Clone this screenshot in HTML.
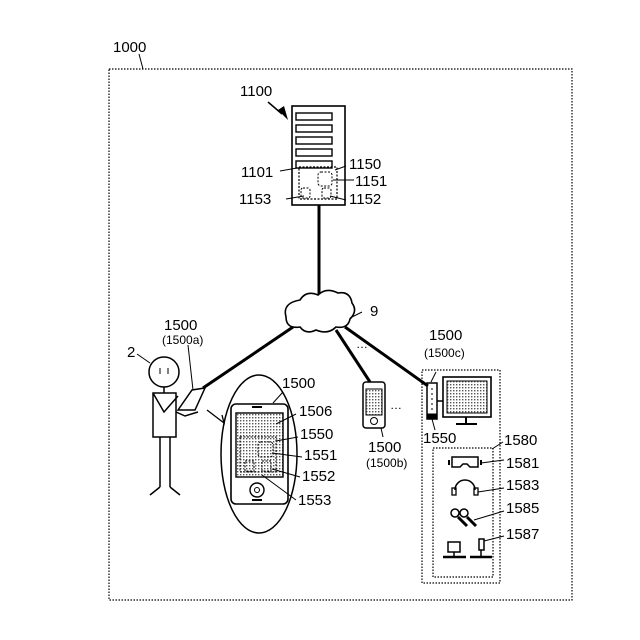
<!DOCTYPE html>
<html><head><meta charset="utf-8"><style>
html,body{margin:0;padding:0;background:#fff;}
svg{display:block;}
text{font-family:"Liberation Sans",sans-serif;font-size:15px;fill:#000;}
.s{font-size:12px;}
</style></head><body>
<svg width="640" height="640" viewBox="0 0 640 640" xmlns="http://www.w3.org/2000/svg">
<defs>
<pattern id="dots" width="3" height="3" patternUnits="userSpaceOnUse"><rect width="3" height="3" fill="#fff"/><rect width="1.4" height="1.4" fill="#555"/></pattern>
</defs>
<g fill="none" stroke="#000">
<!-- outer box -->
<rect x="109" y="69" width="463" height="531" stroke-dasharray="1.5 1.5" stroke-width="1.2"/>
<line x1="139" y1="54" x2="143" y2="69"/>
<!-- server -->
<rect x="292" y="106" width="53" height="99" stroke-width="1.6"/>
<rect x="296" y="113" width="36" height="7" stroke-width="1.4"/>
<rect x="296" y="125" width="36" height="7" stroke-width="1.4"/>
<rect x="296" y="137" width="36" height="7" stroke-width="1.4"/>
<rect x="296" y="149" width="36" height="7" stroke-width="1.4"/>
<rect x="296" y="161" width="36" height="7" stroke-width="1.4"/>
<rect x="299" y="167" width="38" height="32" stroke-dasharray="2 1.5" stroke-width="1.2"/>
<rect x="318" y="172" width="14" height="14" rx="3" stroke-dasharray="2 1.5"/>
<rect x="301" y="188" width="9" height="10" rx="2" stroke-dasharray="2 1.5"/>
<rect x="322" y="188" width="9" height="10" rx="2" stroke-dasharray="2 1.5"/>
<line x1="268" y1="102" x2="282" y2="114" stroke-width="1.5"/>
<line x1="280" y1="171" x2="297" y2="168"/>
<line x1="335" y1="170" x2="346" y2="166"/>
<line x1="333" y1="180" x2="354" y2="180"/>
<line x1="330" y1="196" x2="346" y2="200"/>
<line x1="286" y1="199" x2="304" y2="196"/>
<!-- network -->
<line x1="319" y1="205" x2="319" y2="295" stroke-width="3"/>
<line x1="293" y1="327" x2="203" y2="388" stroke-width="3"/>
<line x1="336" y1="330" x2="370" y2="382" stroke-width="3"/>
<line x1="345" y1="327" x2="428" y2="386" stroke-width="3"/>
<path d="M300 300 q6 -10 18 -5 q8 -8 20 -2 q12 -2 14 10 q6 8 -2 16 q-2 10 -14 8 q-8 8 -20 3 q-10 5 -16 -3 q-14 2 -14 -10 q-4 -14 14 -17 z" fill="#fff" stroke-width="1.6"/>
<line x1="350" y1="318" x2="362" y2="312"/>
<!-- person -->
<circle cx="164" cy="372" r="15" stroke-width="1.5"/>
<line x1="164" y1="387" x2="164" y2="393" stroke-width="1.5"/>
<path d="M153 393 L176 393 L176 437 L153 437 Z M153 393 L164 412 L178 396" stroke-width="1.5"/>
<line x1="160" y1="437" x2="160" y2="487" stroke-width="1.5"/>
<line x1="170" y1="437" x2="170" y2="487" stroke-width="1.5"/>
<line x1="160" y1="487" x2="150" y2="495" stroke-width="1.5"/>
<line x1="170" y1="487" x2="180" y2="495" stroke-width="1.5"/>
<path d="M178 410 L192 390 L205 388 L195 410 Z" stroke-width="1.5" fill="#fff"/>
<path d="M176 412 L185 416 L198 412" stroke-width="1.5"/>
<line x1="160" y1="368" x2="160" y2="374"/>
<line x1="168" y1="368" x2="168" y2="374"/>
<line x1="137" y1="354" x2="150" y2="363"/>
<line x1="188" y1="345" x2="193" y2="390"/>
<!-- ellipse with phone -->
<ellipse cx="259" cy="454" rx="38" ry="79" stroke-width="1.5"/>
<path d="M207 410 L224 423 L222 415" stroke-width="1.3"/>
<rect x="231" y="404" width="57" height="100" rx="5" stroke-width="1.6"/>
<rect x="236" y="413" width="47" height="64" fill="url(#dots)" stroke-width="1.4"/>
<rect x="240" y="437" width="36" height="35" stroke-dasharray="2 1.5"/>
<rect x="258" y="442" width="15" height="15" rx="3" stroke-dasharray="2 1.5"/>
<rect x="245" y="461" width="9" height="10" stroke-dasharray="2 1.5"/>
<rect x="262" y="461" width="9" height="10" stroke-dasharray="2 1.5"/>
<circle cx="257" cy="490" r="7" stroke-width="1.4"/>
<circle cx="257" cy="490" r="2.5"/>
<line x1="252" y1="407" x2="262" y2="407" stroke-width="2"/>
<line x1="252" y1="500" x2="262" y2="500" stroke-width="2"/>
<line x1="273" y1="403" x2="283" y2="392"/>
<line x1="276" y1="424" x2="296" y2="414"/>
<line x1="276" y1="441" x2="298" y2="437"/>
<line x1="272" y1="453" x2="302" y2="457"/>
<line x1="272" y1="469" x2="300" y2="477"/>
<line x1="262" y1="475" x2="296" y2="500"/>
<!-- phone b -->
<rect x="363" y="382" width="22" height="46" rx="3" stroke-width="1.5"/>
<rect x="366" y="389" width="16" height="26" fill="url(#dots)" stroke-width="1"/>
<circle cx="374" cy="421" r="3.5"/>
<line x1="381" y1="428" x2="383" y2="437"/>
<!-- desktop -->
<rect x="422" y="370" width="78" height="213" stroke-dasharray="1.5 1.5" stroke-width="1.2"/>
<rect x="427" y="383" width="10" height="36" stroke-width="1.5"/>
<line x1="432" y1="388" x2="432" y2="410" stroke-dasharray="2 3"/>
<rect x="427" y="414" width="10" height="5" fill="#000"/>
<line x1="437" y1="401" x2="443" y2="401" stroke-width="1.5"/>
<line x1="431" y1="382" x2="436" y2="372"/>
<line x1="432" y1="419" x2="435" y2="430"/>
<rect x="443" y="377" width="48" height="40" stroke-width="1.6"/>
<rect x="447" y="381" width="40" height="32" fill="url(#dots)" stroke-width="1"/>
<line x1="466" y1="417" x2="466" y2="423" stroke-width="2"/>
<line x1="456" y1="424" x2="477" y2="424" stroke-width="2"/>
<rect x="433" y="448" width="60" height="129" stroke-dasharray="1.5 1.5" stroke-width="1.2"/>
<line x1="492" y1="449" x2="503" y2="442"/>
<!-- goggles -->
<path d="M452 457 h26 v10 h-8 l-3 -3 h-4 l-3 3 h-8 z" stroke-width="1.5"/>
<line x1="449" y1="460" x2="449" y2="465" stroke-width="2"/>
<line x1="481" y1="460" x2="481" y2="465" stroke-width="2"/>
<line x1="481" y1="463" x2="504" y2="460"/>
<!-- headset -->
<path d="M455 490 a10 10 0 0 1 20 0" stroke-width="1.5"/>
<rect x="452" y="488" width="4" height="7" stroke-width="1.3"/>
<rect x="474" y="488" width="4" height="7" stroke-width="1.3"/>
<line x1="478" y1="492" x2="504" y2="488"/>
<!-- controllers -->
<circle cx="455" cy="513" r="4" stroke-width="1.5"/>
<circle cx="464" cy="513" r="4" stroke-width="1.5"/>
<line x1="458" y1="517" x2="467" y2="526" stroke-width="3"/>
<line x1="467" y1="517" x2="476" y2="526" stroke-width="3"/>
<line x1="474" y1="520" x2="504" y2="511"/>
<!-- steering / joystick -->
<rect x="448" y="542" width="12" height="10" stroke-width="1.5"/>
<line x1="454" y1="552" x2="454" y2="556" stroke-width="1.5"/>
<line x1="443" y1="557" x2="466" y2="557" stroke-width="2.5"/>
<rect x="479" y="539" width="5" height="11" stroke-width="1.5"/>
<line x1="481" y1="550" x2="481" y2="556" stroke-width="1.5"/>
<line x1="470" y1="557" x2="492" y2="557" stroke-width="2.5"/>
<line x1="484" y1="541" x2="504" y2="536"/>
</g>
<polygon points="278,110 288,120 284,106" fill="#000"/>
<text x="113" y="52">1000</text>
<text x="240" y="96">1100</text>
<text x="241" y="177">1101</text>
<text x="349" y="169">1150</text>
<text x="355" y="186">1151</text>
<text x="349" y="204">1152</text>
<text x="239" y="204">1153</text>
<text x="370" y="316">9</text>
<text x="356" y="348" class="s">…</text>
<text x="164" y="330">1500</text>
<text x="162" y="344" class="s">(1500a)</text>
<text x="127" y="357">2</text>
<text x="282" y="388">1500</text>
<text x="299" y="416">1506</text>
<text x="300" y="439">1550</text>
<text x="304" y="460">1551</text>
<text x="302" y="481">1552</text>
<text x="298" y="505">1553</text>
<text x="390" y="409" class="s">…</text>
<text x="368" y="452">1500</text>
<text x="366" y="467" class="s">(1500b)</text>
<text x="429" y="340">1500</text>
<text x="424" y="357" class="s">(1500c)</text>
<text x="423" y="443">1550</text>
<text x="504" y="445">1580</text>
<text x="506" y="468">1581</text>
<text x="506" y="490">1583</text>
<text x="506" y="513">1585</text>
<text x="506" y="539">1587</text>
</svg>
</body></html>
